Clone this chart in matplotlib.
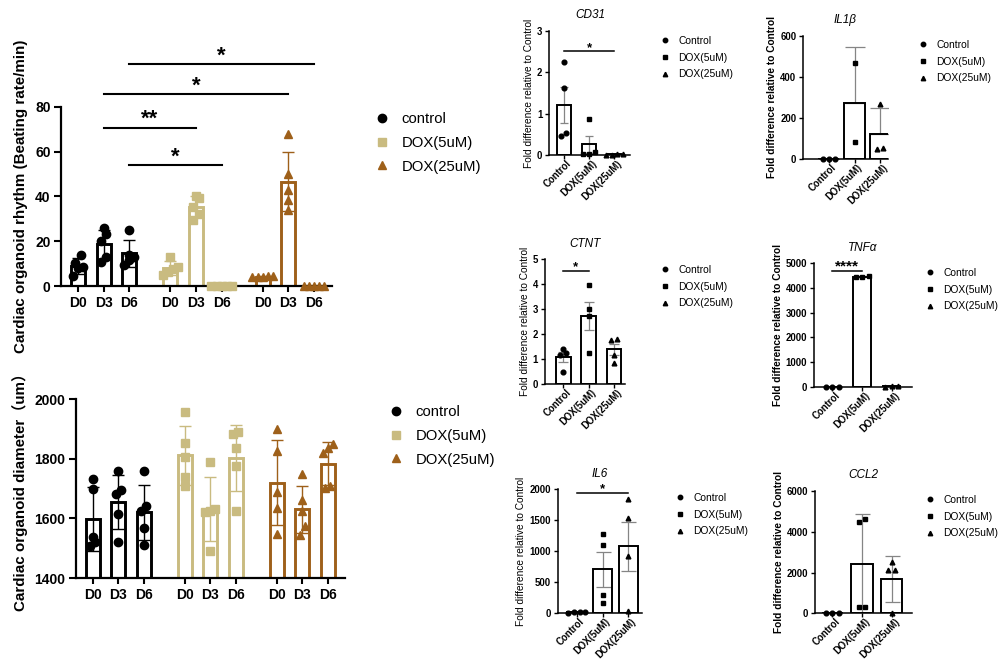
import numpy as np
import matplotlib.pyplot as plt
from matplotlib.lines import Line2D
import matplotlib.transforms as mtransforms

plt.rcParams['font.family'] = ['Liberation Sans', 'Noto Sans CJK SC']

# ---- data ----
groups = ['control', 'DOX(5uM)', 'DOX(25uM)']
small_groups = ['Control', 'DOX(5uM)', 'DOX(25uM)']
days = ['D0', 'D3', 'D6']
group_colors = ['#000000', '#C9BB80', '#9E601A']
group_markers = ['o', 's', '^']

# beating rate per organoid, [D0, D3, D6]
rhythm_control = [[13.8, 10.1, 8.3, 7.9, 4.6], [26.0, 20.2, 23.2, 13.1, 10.6], [25.0, 13.8, 13.1, 11.6, 9.5]]
rhythm_dox5 = [[13.1, 8.6, 7.4, 6.4, 4.9], [40.3, 39.4, 35.4, 32.0, 29.4], [0, 0, 0, 0, 0]]
rhythm_dox25 = [[4.6, 4.2, 4.0, 3.8, 4.4], [67.8, 49.8, 42.8, 38.4, 33.9], [0, 0, 0, 0, 0]]

# organoid diameter (um), [D0, D3, D6]
diam_control = [[1731, 1700, 1537, 1519, 1506], [1760, 1695, 1682, 1615, 1520], [1757, 1642, 1625, 1567, 1511]]
diam_dox5 = [[1957, 1852, 1804, 1740, 1707], [1790, 1630, 1625, 1620, 1490], [1891, 1883, 1837, 1774, 1625]]
diam_dox25 = [[1900, 1827, 1688, 1636, 1548], [1748, 1660, 1623, 1573, 1545], [1849, 1835, 1820, 1709, 1701]]

# qPCR fold change, [Control, DOX(5uM), DOX(25uM)]
cd31 = [[2.24, 1.61, 0.54, 0.47], [0.88, 0.08, 0.03, 0.03], [0.02, 0.01, 0.02, 0.01]]
il1b = [[1.2, 0.8, 1.0], [467, 81], [268, 49, 52]]
ctnt = [[1.23, 1.39, 1.16, 0.49], [3.96, 3.02, 2.73, 1.23], [1.79, 1.76, 1.16, 0.83]]
tnfa = [[1.0, 1.2, 0.8], [4486, 4440, 4425], [10, 12, 8]]
il6 = [[5, 4, 6, 3], [1276, 1097, 286, 151], [1838, 1530, 919, 27]]
ccl2 = [[5, 4, 6], [4610, 4480, 327, 294], [2532, 2124, 2100, 30]]

fig = plt.figure(figsize=(10, 6.68), dpi=100)
W, H = 1000, 668


def px_rect(x0, y0, x1, y1):
    return [x0 / W, 1 - y1 / H, (x1 - x0) / W, (y1 - y0) / H]


def row_offsets(vals, thresh, step):
    # prism-like scatter: points with close values share a row
    vals = np.asarray(vals, float)
    order = np.argsort(vals)
    offs = np.zeros(len(vals))
    rows = []
    for i in order:
        if rows and vals[i] - vals[rows[-1][0]] <= thresh:
            rows[-1].append(i)
        else:
            rows.append([i])
    for r in rows:
        for k, i in enumerate(r):
            offs[i] = (k - (len(r) - 1) / 2) * step
    return offs


def legend_at(ax, labels, colors, ms, fs, mx, my, spacing):
    handles = [Line2D([], [], marker=m, color=c, ls='none', ms=ms) for m, c in zip(group_markers, colors)]
    fpx = fs * 100 / 72
    ax.legend(handles, labels, loc='upper left', frameon=False, fontsize=fs,
              bbox_to_anchor=((mx - fpx / 2) / W, 1 - (my - fpx * 0.6) / H),
              bbox_transform=fig.transFigure, borderaxespad=0, borderpad=0,
              handlelength=1.0, handletextpad=0.8, labelspacing=spacing)


# ---- left panels ----
group_gap = 3.6


def left_panel(rect, data, ylim, yticks, xlim, ylabel, leg_xy):
    ax = fig.add_axes(rect)
    span = ylim[1] - ylim[0]
    for g in range(3):
        for d in range(3):
            pos = g * group_gap + d
            vals = np.array(data[g][d], float)
            m, sd = vals.mean(), vals.std(ddof=1)
            ax.bar(pos, m - ylim[0], bottom=ylim[0], width=0.55, facecolor='none',
                   edgecolor=group_colors[g], linewidth=2.1, zorder=2)
            ax.errorbar(pos, m, yerr=sd, fmt='none', ecolor=group_colors[g], elinewidth=1.0,
                        capsize=4.5, capthick=1.0, zorder=1.8)
            offs = row_offsets(vals, span * 0.05, 0.2)
            ax.plot(pos + offs, vals, ls='none', marker=group_markers[g], color=group_colors[g],
                    ms=6.0, clip_on=False, zorder=3)
    ax.set_xlim(*xlim)
    ax.set_ylim(*ylim)
    ax.set_yticks(yticks)
    ax.set_xticks([g * group_gap + d for g in range(3) for d in range(3)], labels=days * 3)
    for s in ['top', 'right']:
        ax.spines[s].set_visible(False)
    for s in ['left', 'bottom']:
        ax.spines[s].set_linewidth(1.6)
    ax.tick_params(axis='y', length=5, width=1.5, pad=2.5, labelsize=10)
    ax.tick_params(axis='x', length=4, width=1.5, pad=3, labelsize=10)
    for lab in ax.get_xticklabels() + ax.get_yticklabels():
        lab.set_fontweight('bold')
    ax.set_ylabel(ylabel, fontsize=10.9, fontweight='bold', labelpad=5)
    legend_at(ax, groups, group_colors, 6, 10.7, leg_xy[0], leg_xy[1] + 3, 0.66)
    return ax


ax1 = left_panel(px_rect(61, 106.7, 332, 286), [rhythm_control, rhythm_dox5, rhythm_dox25],
                 (0, 80), [0, 20, 40, 60, 80], (-0.66, 9.9),
                 'Cardiac organoid rhythm (Beating rate/min)', (382, 118))

# significance brackets for rhythm
rhythm_sig = [(2, 2 * group_gap + 2, 99, '*'), (1, 2 * group_gap + 1, 85.5, '*'),
              (1, group_gap + 1, 70.6, '**'), (2, group_gap + 2, 54, '*')]
for x1, x2, y, s in rhythm_sig:
    ax1.plot([x1, x2], [y, y], color='black', lw=1.5, clip_on=False)
    ax1.text((x1 + x2) / 2, y + 1.2, s, ha='center', va='baseline', fontsize=16, fontweight='bold')

left_panel(px_rect(76, 399, 345, 578), [diam_control, diam_dox5, diam_dox25],
           (1400, 2000), [1400, 1600, 1800, 2000], (-0.65, 9.88),
           'Cardiac organoid diameter（um）', (396, 411))

# ---- qPCR panels ----
panels = [
    dict(title='CD31', vals=cd31, rect=(549.3, 31, 631, 155), ylim=(0, 3), yticks=[0, 1, 2, 3],
         xlim=(-0.57, 2.66), err='sem', bw=0.55, cap=3, dotted=True, bold=False, upper=False,
         sig=(0, 2, 2.52, '*'), leg=(665, 40)),
    dict(title='IL1β', vals=il1b, rect=(803.3, 36, 887.7, 159), ylim=(0, 600), yticks=[0, 200, 400, 600],
         xlim=(-1.0, 2.29), err='sd', bw=0.82, cap=7, dotted=True, bold=True, upper=True,
         sig=None, leg=(923, 44)),
    dict(title='CTNT', vals=ctnt, rect=(545, 259.3, 625, 384), ylim=(0, 5), yticks=[0, 1, 2, 3, 4, 5],
         xlim=(-0.72, 2.43), err='sem', bw=0.57, cap=3.3, dotted=False, bold=False, upper=False,
         sig=(0, 1, 4.55, '*'), leg=(665, 269)),
    dict(title='TNFα', vals=tnfa, rect=(814, 263.3, 911.7, 386.7), ylim=(0, 5000),
         yticks=[0, 1000, 2000, 3000, 4000, 5000],
         xlim=(-0.62, 2.67), err='sem', bw=0.58, cap=3, dotted=True, bold=True, upper=False,
         sig=(0, 1, 4703, '****'), leg=(930, 272)),
    dict(title='IL6', vals=il6, rect=(557.7, 489.3, 641.7, 612.7), ylim=(0, 2000),
         yticks=[0, 500, 1000, 1500, 2000],
         xlim=(-0.74, 2.52), err='sem', bw=0.72, cap=5.4, dotted=False, bold=False, upper=False,
         sig=(0, 2, 1946, '*'), leg=(680, 497)),
    dict(title='CCL2', vals=ccl2, rect=(815, 491, 911.7, 613.3), ylim=(0, 6000), yticks=[0, 2000, 4000, 6000],
         xlim=(-0.58, 2.67), err='sd', bw=0.72, cap=5.4, dotted=True, bold=True, upper=False,
         sig=None, leg=(930, 499)),
]

for p in panels:
    ax = fig.add_axes(px_rect(*p['rect']))
    span = p['ylim'][1] - p['ylim'][0]
    x = np.arange(3)
    means, errs = [], []
    for v in p['vals']:
        v = np.array(v, float)
        sd = v.std(ddof=1)
        means.append(v.mean())
        errs.append(sd / np.sqrt(len(v)) if p['err'] == 'sem' else sd)
    errs = np.array(errs)
    ax.bar(x, means, width=p['bw'], facecolor='none', edgecolor='black', linewidth=1.4, zorder=2)
    lower = np.zeros(3) if p['upper'] else errs
    ax.errorbar(x, means, yerr=[lower, errs], fmt='none', ecolor='#858585', elinewidth=0.9,
                capsize=p['cap'], capthick=0.9, zorder=1.8)
    for i, v in enumerate(p['vals']):
        offs = row_offsets(v, span * 0.035, 0.22)
        ax.plot(i + offs, v, ls='none', marker=group_markers[i], color='black', ms=3.4,
                clip_on=False, zorder=3)
    ax.set_xlim(*p['xlim'])
    ax.set_ylim(*p['ylim'])
    ax.set_yticks(p['yticks'])
    ax.set_xticks(x, labels=small_groups)
    for s in ['top', 'right']:
        ax.spines[s].set_visible(False)
    ax.spines['left'].set_linewidth(1.1)
    ax.spines['bottom'].set_linewidth(1.1)
    if p['dotted']:
        ax.spines['bottom'].set_linestyle((0, (2, 1)))
    ax.tick_params(length=3, width=1.0, pad=2, labelsize=6.9)
    offset = mtransforms.ScaledTranslation(6 / 100, 0, fig.dpi_scale_trans)
    for lab in ax.get_xticklabels():
        lab.set_rotation(45)
        lab.set_ha('right')
        lab.set_va('center')
        lab.set_rotation_mode('anchor')
        lab.set_transform(lab.get_transform() + offset)
    for lab in ax.get_xticklabels() + ax.get_yticklabels():
        lab.set_fontweight('bold')
    ax.set_ylabel('Fold difference relative to Control', fontsize=7.3,
                  fontweight='bold' if p['bold'] else 'normal', labelpad=2)
    ax.set_title(p['title'], fontsize=8.5, fontstyle='italic', pad=9)
    if p['sig']:
        x1, x2, y, s = p['sig']
        ax.plot([x1, x2], [y, y], color='black', lw=1.1, clip_on=False)
        ax.text((x1 + x2) / 2, y, s, ha='center', va='baseline',
                fontsize=11 if len(s) > 1 else 9.5, fontweight='bold')
    legend_at(ax, small_groups, ['black'] * 3, 3.2, 7.4, p['leg'][0], p['leg'][1] + 2, 0.66)

fig.savefig('out.png', dpi=100)
